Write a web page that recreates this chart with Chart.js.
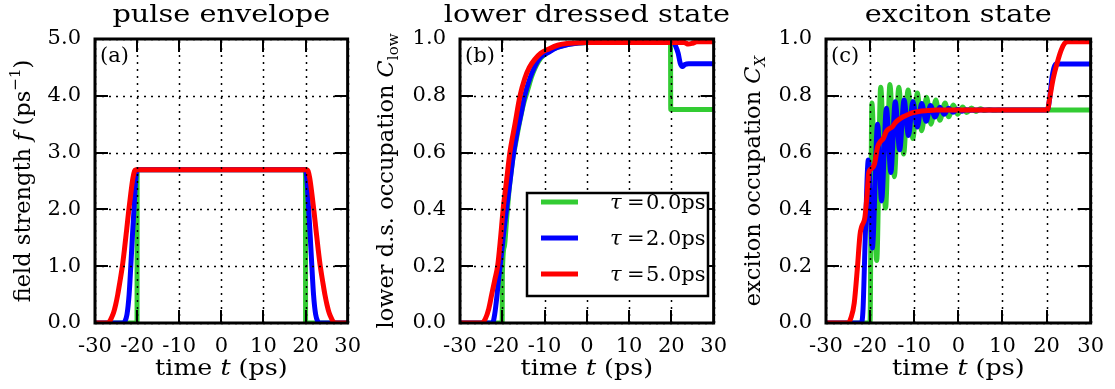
<!DOCTYPE html>
<html>
<head>
<meta charset="utf-8">
<script src="https://cdn.jsdelivr.net/npm/chart.js@4.4.0/dist/chart.umd.min.js"></script>
<style>
  body { margin: 0; background: #fff; width: 1115px; height: 389px; overflow: hidden; position: relative; }
  canvas { position: absolute; top: 0; }
</style>
</head>
<body>
<canvas id="chartA" width="372" height="389" style="left:0"></canvas>
<canvas id="chartB" width="366" height="389" style="left:372px"></canvas>
<canvas id="chartC" width="377" height="389" style="left:738px"></canvas>
<script>
// series labels (pulse delay tau) and colours
const tauLabels = ['0.0', '2.0', '5.0'];
const colors = ['#33cc33', '#0000ff', '#ff0000'];

// (a) pulse envelope f(t), pairs of [t (ps), f (1/ps)]
const envGreen = [[-30, 0], [-20.02, 0], [-19.98, 2.7], [19.98, 2.7], [20.02, 0], [30, 0]];
const envBlue = [[-30, 0], [-23.4, 0], [-22.9, 0.03], [-22.4, 0.15], [-21.9, 0.5], [-21.5, 1.0], [-21.1, 1.55],
  [-20.7, 2.05], [-20.4, 2.45], [-20.15, 2.66], [-19.9, 2.7], [19.9, 2.7], [20.15, 2.66], [20.4, 2.45], [20.7, 2.05],
  [21.1, 1.55], [21.5, 1.0], [21.9, 0.5], [22.4, 0.15], [22.9, 0.03], [23.4, 0], [30, 0]];
const envRed = [[-30, 0], [-27, 0], [-26.5, 0.03], [-26.1, 0.09], [-25.6, 0.18], [-25.1, 0.32], [-24.6, 0.5],
  [-24.1, 0.72], [-23.5, 1.0], [-23, 1.3], [-22.5, 1.63], [-22, 1.97], [-21.5, 2.28], [-21, 2.55], [-20.6, 2.68],
  [-20.3, 2.7], [20.3, 2.7], [20.6, 2.68], [21, 2.55], [21.5, 2.28], [22, 1.97], [22.5, 1.63], [23, 1.3],
  [23.5, 1.0], [24.1, 0.72], [24.6, 0.5], [25.1, 0.32], [25.6, 0.18], [26.1, 0.09], [26.5, 0.03], [27, 0], [30, 0]];

// (b) lower dressed state occupation C_low
const lowGreen = [[-30, 0], [-20.02, 0], [-19.98, 0.17], [-19.5, 0.27], [-19, 0.36], [-18.5, 0.45], [-18, 0.52],
  [-17.5, 0.58], [-17, 0.62], [-16, 0.7], [-15, 0.77], [-14, 0.82], [-13, 0.87], [-12, 0.905], [-11, 0.93],
  [-10, 0.945], [-8, 0.965], [-6, 0.975], [-4, 0.982], [-2, 0.986], [0, 0.988], [19.8, 0.988], [19.85, 0.752], [30, 0.752]];
const lowBlue = [[-30, 0], [-22.3, 0], [-21.8, 0.03], [-21.3, 0.09], [-20.9, 0.15], [-20.5, 0.2], [-20, 0.27],
  [-19.5, 0.34], [-19, 0.4], [-18.5, 0.46], [-18, 0.52], [-17.3, 0.6], [-16.5, 0.67], [-15.5, 0.74], [-14.7, 0.8],
  [-13.5, 0.86], [-12.4, 0.9], [-11, 0.935], [-9.4, 0.95], [-7, 0.97], [-4.5, 0.98], [-2, 0.986], [0, 0.988],
  [20.4, 0.988], [21, 0.975], [21.6, 0.95], [22.1, 0.915], [22.6, 0.903], [23.2, 0.91], [24.1, 0.913], [30, 0.913]];
const lowRed = [[-30, 0], [-24.8, 0], [-24, 0.015], [-23.2, 0.05], [-22.5, 0.1], [-21.8, 0.15], [-21.1, 0.2],
  [-20.4, 0.3], [-19.8, 0.4], [-19, 0.5], [-18.2, 0.6], [-17, 0.7], [-15.8, 0.8], [-14.7, 0.86], [-13.6, 0.9],
  [-12.2, 0.93], [-10.9, 0.95], [-9, 0.965], [-6.9, 0.978], [-4, 0.985], [0, 0.988], [23, 0.988], [24, 0.982],
  [25, 0.985], [26, 0.99], [30, 0.99]];

// (c) exciton occupation C_X
const excGreen = [[-30, 0], [-20.02, 0], [-19.6, 0.775], [-18.5, 0.22], [-17.6, 0.83], [-16.5, 0.405], [-15.5, 0.84],
  [-14.5, 0.515], [-13.5, 0.83], [-12.4, 0.595], [-11.4, 0.82], [-10.3, 0.65], [-9.3, 0.81], [-8.3, 0.677],
  [-7.2, 0.795], [-6.2, 0.7], [-5.1, 0.785], [-4.2, 0.714], [-3.0, 0.775], [-2.2, 0.726], [-1.1, 0.768],
  [-0.2, 0.735], [1.0, 0.761], [1.9, 0.741], [3.0, 0.757], [4.0, 0.745], [5.0, 0.754], [6.0, 0.748], [7.0, 0.752],
  [8.0, 0.749], [9, 0.75], [30, 0.75]];
const excBlue = [[-30, 0], [-22, 0], [-21.6, 0.05], [-21.1, 0.3], [-20.4, 0.574], [-19.5, 0.264], [-18.3, 0.7],
  [-17.4, 0.43], [-16.3, 0.756], [-15.3, 0.53], [-14.3, 0.779], [-13.3, 0.61], [-12.3, 0.785], [-11.3, 0.66],
  [-10.3, 0.78], [-9.3, 0.69], [-8.3, 0.773], [-7.3, 0.71], [-6.3, 0.766], [-5.3, 0.725], [-4.2, 0.76],
  [-3.2, 0.735], [-2.2, 0.756], [-1.2, 0.742], [-0.2, 0.753], [0.8, 0.746], [1.8, 0.751], [2.8, 0.749], [4, 0.75],
  [20.2, 0.75], [20.7, 0.79], [21.2, 0.86], [21.7, 0.9], [22.2, 0.912], [30, 0.912]];
const excRed = [[-30, 0], [-25, 0], [-24.3, 0.02], [-23.6, 0.07], [-22.9, 0.19], [-22.3, 0.31], [-21.9, 0.34],
  [-21.2, 0.37], [-20.7, 0.45], [-20.3, 0.53], [-19.6, 0.545], [-19.0, 0.56], [-18.3, 0.62], [-17.6, 0.64],
  [-17, 0.65], [-16.3, 0.675], [-15.6, 0.685], [-15, 0.69], [-14.3, 0.705], [-13.6, 0.715], [-12.5, 0.726],
  [-11.5, 0.733], [-10.5, 0.74], [-9, 0.745], [-7, 0.748], [-5, 0.75], [20.2, 0.75], [20.7, 0.79], [21.5, 0.86],
  [22.4, 0.915], [23.3, 0.96], [24.1, 0.985], [24.8, 0.99], [30, 0.99]];

const SERIF = '"DejaVu Serif", "Liberation Serif", serif';
const TEXT_STRETCH = 1.15; // reference text is a bit wider than DejaVu Serif

function segFont(s) {
  return (s.italic ? 'italic ' : '') + s.size + 'px ' + SERIF;
}

// draws a run of text pieces (italic / sub / superscript), centred on x
function drawRich(ctx, segs, x, y, rotate, stretch) {
  ctx.save();
  ctx.translate(x, y);
  if (rotate) ctx.rotate(-Math.PI / 2);
  if (stretch) ctx.scale(stretch, 1);
  ctx.fillStyle = '#000';
  ctx.textAlign = 'left';
  ctx.textBaseline = 'alphabetic';
  let total = 0;
  segs.forEach(s => { ctx.font = segFont(s); s.w = ctx.measureText(s.text).width; total += s.w; });
  let cx = -total / 2;
  segs.forEach(s => { ctx.font = segFont(s); ctx.fillText(s.text, cx, s.dy || 0); cx += s.w; });
  ctx.restore();
}

const frame = {
  id: 'frame',
  afterDatasetsDraw(chart, args, opts) {
    const { ctx, chartArea: a, scales: { x, y } } = chart;
    ctx.save();
    // dotted grid, on top of the curves like classic matplotlib
    ctx.strokeStyle = '#000';
    ctx.lineWidth = 1.5;
    ctx.setLineDash([2, 5]);
    x.ticks.forEach(t => {
      const px = Math.round(x.getPixelForValue(t.value)) + 0.5;
      ctx.beginPath(); ctx.moveTo(px, a.bottom); ctx.lineTo(px, a.top); ctx.stroke();
    });
    y.ticks.forEach(t => {
      const py = Math.round(y.getPixelForValue(t.value)) + 0.5;
      ctx.beginPath(); ctx.moveTo(a.left, py); ctx.lineTo(a.right, py); ctx.stroke();
    });
    ctx.setLineDash([]);
    // inward ticks on all four sides
    const tl = 13;
    ctx.lineWidth = 2;
    x.ticks.forEach(t => {
      const px = Math.round(x.getPixelForValue(t.value));
      ctx.beginPath();
      ctx.moveTo(px, a.bottom); ctx.lineTo(px, a.bottom - tl);
      ctx.moveTo(px, a.top); ctx.lineTo(px, a.top + tl);
      ctx.stroke();
    });
    y.ticks.forEach(t => {
      const py = Math.round(y.getPixelForValue(t.value));
      ctx.beginPath();
      ctx.moveTo(a.left, py); ctx.lineTo(a.left + tl, py);
      ctx.moveTo(a.right, py); ctx.lineTo(a.right - tl, py);
      ctx.stroke();
    });
    ctx.lineWidth = 3;
    ctx.strokeRect(a.left, a.top, a.right - a.left, a.bottom - a.top);
    // panel tag
    ctx.fillStyle = '#000';
    ctx.font = '21px ' + SERIF;
    ctx.textAlign = 'left';
    ctx.textBaseline = 'alphabetic';
    ctx.fillText(opts.tag, a.left + 5, a.top + 23);
    // legend box
    if (opts.legend) {
      const L = opts.legend;
      ctx.fillStyle = '#fff';
      ctx.fillRect(L.x, L.y, L.w, L.h);
      ctx.lineWidth = 2.5;
      ctx.strokeStyle = '#000';
      ctx.strokeRect(L.x, L.y, L.w, L.h);
      const ds = chart.data.datasets;
      ds.forEach((d, i) => {
        const ry = L.y + 9 + i * 36;
        ctx.strokeStyle = d.borderColor;
        ctx.lineWidth = 5;
        ctx.beginPath(); ctx.moveTo(L.x + 14, ry); ctx.lineTo(L.x + 51, ry); ctx.stroke();
        ctx.fillStyle = '#000';
        const by = ry + 7;
        ctx.font = 'italic 21px ' + SERIF;
        ctx.fillText('τ', L.x + 83, by);
        ctx.font = '21px ' + SERIF;
        ctx.fillText('=', L.x + 100, by);
        const v = d.label.split('.');
        ctx.fillText(v[0] + '.', L.x + 119, by);
        ctx.fillText(v[1] + 'ps', L.x + 141, by);
      });
    }
    ctx.restore();
  },
  afterDraw(chart, args, opts) {
    const { ctx, chartArea: a } = chart;
    const cx = (a.left + a.right) / 2;
    drawRich(ctx, [{ text: opts.title, size: 25 }], cx, 22, false, TEXT_STRETCH);
    drawRich(ctx, [
      { text: 'time ', size: 22 }, { text: 't', size: 22, italic: true }, { text: ' (ps)', size: 22 }
    ], cx, 375, false, TEXT_STRETCH);
    drawRich(ctx, opts.ylabel, opts.ylabelX, (a.top + a.bottom) / 2, true, 0);
  }
};

function toPts(arr) {
  return arr.map(p => ({ x: p[0], y: p[1] }));
}

function makeChart(id, series, yMax, yStep, leftW, rightPad, frameOpts) {
  const datasets = series.map((s, i) => ({
    label: tauLabels[i],
    data: toPts(s),
    borderColor: colors[i],
    borderWidth: 5,
    pointRadius: 0,
    fill: false,
    cubicInterpolationMode: 'monotone',
    borderJoinStyle: 'round',
    clip: 0,
    order: 3 - i
  }));
  return new Chart(document.getElementById(id), {
    type: 'line',
    data: { datasets },
    plugins: [frame],
    options: {
      responsive: false,
      animation: false,
      devicePixelRatio: 1,
      layout: { padding: { top: 39, right: rightPad, left: 0, bottom: 0 } },
      plugins: {
        legend: { display: false },
        tooltip: { enabled: false },
        frame: frameOpts
      },
      scales: {
        x: {
          type: 'linear',
          min: -30,
          max: 30,
          afterFit: s => { s.height = 66; },
          grid: { display: false, drawTicks: false },
          border: { display: false },
          ticks: {
            stepSize: 10,
            maxRotation: 0,
            autoSkip: false,
            padding: 11,
            color: '#000',
            font: { family: SERIF, size: 21 }
          }
        },
        y: {
          min: 0,
          max: yMax,
          afterFit: s => { s.width = leftW; },
          grid: { display: false, drawTicks: false },
          border: { display: false },
          ticks: {
            stepSize: yStep,
            padding: 14,
            color: '#000',
            font: { family: SERIF, size: 21 },
            callback: v => v.toFixed(1)
          }
        }
      }
    }
  });
}

makeChart('chartA', [envGreen, envBlue, envRed], 5, 1, 95, 11, {
  tag: '(a)',
  title: 'pulse envelope',
  ylabelX: 30,
  ylabel: [
    { text: 'field strength ', size: 22.5 }, { text: 'f', size: 22.5, italic: true }, { text: ' (ps', size: 22.5 },
    { text: '−1', size: 15, dy: -10 }, { text: ')', size: 22.5 }
  ]
});

makeChart('chartB', [lowGreen, lowBlue, lowRed], 1, 0.2, 88, 11, {
  tag: '(b)',
  title: 'lower dressed state',
  ylabelX: 21,
  ylabel: [
    { text: 'lower d.s. occupation ', size: 22.5 }, { text: 'C', size: 22.5, italic: true },
    { text: 'low', size: 15, dy: 5 }
  ],
  legend: { x: 155, y: 193, w: 181, h: 103 }
});

makeChart('chartC', [excGreen, excBlue, excRed], 1, 0.2, 88, 22, {
  tag: '(c)',
  title: 'exciton state',
  ylabelX: 22,
  ylabel: [
    { text: 'exciton occupation ', size: 22.5 }, { text: 'C', size: 22.5, italic: true },
    { text: 'X', size: 15, italic: true, dy: 5 }
  ]
});
</script>
</body>
</html>
